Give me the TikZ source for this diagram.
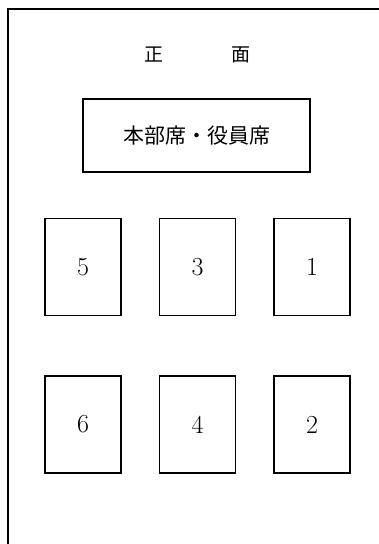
\documentclass[tikz,border=0pt]{standalone}
\usepackage{fontspec}
\newfontfamily\jpfont{Noto Sans CJK JP}
\usepackage{tikz}
\usetikzlibrary{positioning}

\begin{document}
\begin{tikzpicture}[x=1pt,y=-1pt,semithick]
\tikzstyle{seat} = [draw,rectangle,line width=1.6pt,inner sep=0pt,minimum width=76pt,minimum height=97pt,font=\fontsize{20}{24}\selectfont,node distance = 59pt and 37pt]
\tikzstyle{head} = [draw,rectangle,line width=1.6pt,inner sep=0pt,minimum width=227pt,minimum height=73pt,font=\jpfont\fontsize{21}{25}\selectfont]

\useasboundingbox (0,0) rectangle (379,544);

% frame (cut off on the right and below)
\draw[line width=2pt] (8,544) -- (8,9) -- (379,9);

\node[font=\jpfont\fontsize{19}{23}\selectfont] (front) at (197.5,55) {正\hspace{68pt}面};
\node[head] (hq) at (196.5,135.5) {本部席・役員席};

\node[seat] (S5) at (83,267) {\scalebox{1.3}{5}};
\node[seat] (S3) [right = of S5] {\scalebox{1.3}{3}};
\node[seat] (S1) [right = of S3] {\scalebox{1.3}{1}};
\node[seat] (S6) [below = of S5] {\scalebox{1.3}{6}};
\node[seat] (S4) [below = of S3] {\scalebox{1.3}{4}};
\node[seat] (S2) [below = of S1] {\scalebox{1.3}{2}};
\end{tikzpicture}
\end{document}
